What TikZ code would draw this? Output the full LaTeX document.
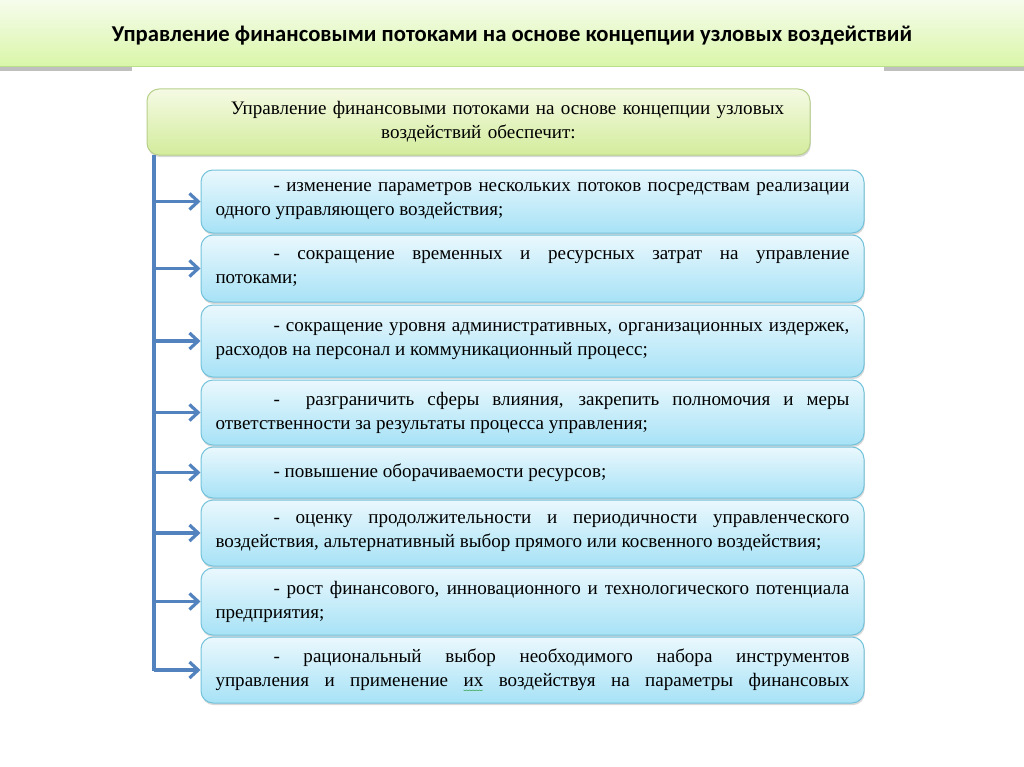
\documentclass[tikz,border=0pt]{standalone}
\usepackage{fontspec}
\setmainfont{Liberation Serif}
\newfontfamily\headfont{Carlito}
\newfontfamily\cjkfont{Noto Sans CJK SC}
\usetikzlibrary{arrows.meta,shadows}

\definecolor{bandtop}{HTML}{F6FCEC}
\definecolor{bandbot}{HTML}{D9F6A8}
\definecolor{bandedge}{HTML}{BADF8C}
\definecolor{greentop}{HTML}{F5FAE4}
\definecolor{greenbot}{HTML}{D3EC9C}
\definecolor{greenedge}{HTML}{B7D08A}
\definecolor{bluetop}{HTML}{EAF8FD}
\definecolor{bluebot}{HTML}{A7E2F6}
\definecolor{blueedge}{HTML}{74C3DB}
\definecolor{trunkblue}{HTML}{5283BF}

\newcommand{\spellwave}[1]{\rlap{\raisebox{-2.5pt}{\textcolor{green!55!black}{\cjkfont\fontsize{7.2pt}{7.2pt}\selectfont ﹏﹏}}}#1}

\begin{document}
\begin{tikzpicture}[x=0.75pt,y=-0.75pt,
  txt/.style={font=\fontsize{14.3pt}{18pt}\selectfont, text width=475.5pt, inner sep=0pt},
  gbox/.style={txt, align=center, draw=greenedge, line width=0.75pt, rounded corners=9pt,
    top color=greentop, bottom color=greenbot, minimum width=497.25pt, minimum height=49.5pt,
    drop shadow={shadow xshift=0.6pt, shadow yshift=-1.6pt, opacity=0.3}},
  bbox/.style={txt, align=justify, draw=blueedge, line width=0.75pt, rounded corners=9pt,
    top color=bluetop, bottom color=bluebot, minimum width=497.25pt,
    drop shadow={shadow xshift=0.6pt, shadow yshift=-1.6pt, opacity=0.3}},
  trunkline/.style={draw=trunkblue, line width=2.4pt},
  arr/.style={trunkline, -{Straight Barb[length=6.5pt, width=12pt]}}]
  \useasboundingbox[fill=white] (0,0) rectangle (1024,767);
  % Header
  \shade[top color=bandtop, bottom color=bandbot] (0,0) rectangle (1024,67);
  \fill[black!25] (0,67) rectangle (132,71);
  \fill[black!25] (884,67) rectangle (1024,71);
  \draw[bandedge, line width=0.75pt] (0,66.6) -- (1024,66.6);
  \node (hd) at (512,36) {\headfont\bfseries\fontsize{17pt}{21pt}\selectfont Управление финансовыми потоками на основе концепции узловых воздействий};
  % Nodes
  \node (top) [gbox] at (478.5,122) {\hspace*{43.5pt}Управление финансовыми потоками на основе концепции узловых\\ воздействий обеспечит:};
  \node (b1) [bbox, minimum height=47.25pt] at (532.5,201.5) {\hspace*{43.5pt}- изменение параметров нескольких потоков посредствам реализации\linebreak одного управляющего воздействия;};
  \node (b2) [bbox, minimum height=50.25pt] at (532.5,268.5) {\hspace*{43.5pt}- сокращение временных и ресурсных затрат на управление\linebreak потоками;};
  \node (b3) [bbox, minimum height=54pt] at (532.5,341) {\hspace*{43.5pt}- сокращение уровня административных, организационных издержек,\linebreak расходов на персонал и коммуникационный процесс;};
  \node (b4) [bbox, minimum height=48.75pt] at (532.5,412.5) {\hspace*{43.5pt}- \ разграничить сферы влияния, закрепить полномочия и меры\linebreak ответственности за результаты процесса управления;};
  \node (b5) [bbox, minimum height=38.25pt] at (532.5,472.5) {\hspace*{43.5pt}- повышение оборачиваемости ресурсов;};
  \node (b6) [bbox, minimum height=49.5pt] at (532.5,533) {\hspace*{43.5pt}- оценку продолжительности и периодичности управленческого\linebreak воздействия, альтернативный выбор прямого или косвенного воздействия;};
  \node (b7) [bbox, minimum height=50.25pt] at (532.5,601.5) {\hspace*{43.5pt}- рост финансового, инновационного и технологического потенциала\linebreak предприятия;};
  \node (b8) [bbox, minimum height=49.5pt] at (532.5,670) {\hspace*{43.5pt}- рациональный выбор необходимого набора инструментов\linebreak управления и применение \spellwave{их} воздействуя на параметры финансовых\parfillskip=0pt\par};
  % Arrows
  \coordinate (t0) at (154,155);
  \coordinate (t1) at (154,671);
  \draw[trunkline] (t0) -- (t1);
  \foreach \b in {b1,b2,b3,b4,b5,b6,b7,b8}
    \draw[arr] (t0 |- \b.west) -- (\b.west);
\end{tikzpicture}
\end{document}
